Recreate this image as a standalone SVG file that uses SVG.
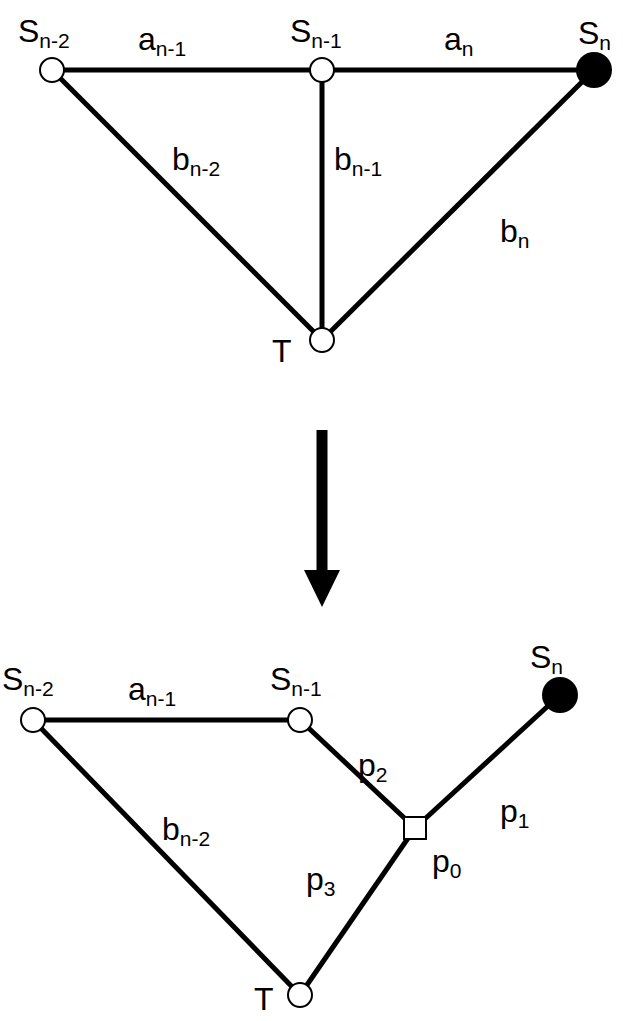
<svg xmlns="http://www.w3.org/2000/svg" width="623" height="1021" viewBox="0 0 623 1021">
<style>
.e{stroke:#000;stroke-width:5;fill:none}
.n{fill:#fff;stroke:#000;stroke-width:2}
.b{fill:#000}
text{font-family:"Liberation Sans",Arial,sans-serif;font-size:32px;fill:#000}
.s{font-size:21px}
</style>
<g id="connectors">
<line class="e" x1="52" y1="70" x2="594" y2="70"/>
<line class="e" x1="322" y1="70" x2="322" y2="340"/>
<line class="e" x1="52" y1="70" x2="322" y2="340"/>
<line class="e" x1="594" y1="70" x2="322" y2="340"/>
<line class="e" x1="33" y1="720" x2="300" y2="720"/>
<line class="e" x1="33" y1="720" x2="300" y2="995"/>
<line class="e" x1="300" y1="720" x2="415" y2="828"/>
<line class="e" x1="560" y1="695" x2="415" y2="828"/>
<line class="e" x1="300" y1="995" x2="415" y2="828"/>
<line x1="322" y1="430" x2="322" y2="572" stroke="#000" stroke-width="11"/>
<polygon points="304,570 340,570 322,607" fill="#000"/>
</g>
<g id="t-sn2"><circle class="n" cx="52" cy="70" r="12"/></g>
<g id="t-sn1"><circle class="n" cx="322" cy="70" r="12"/></g>
<g id="t-sn"><circle class="b" cx="594" cy="70" r="18"/></g>
<g id="t-T"><circle class="n" cx="322" cy="340" r="12"/></g>
<g id="b-sn2"><circle class="n" cx="33" cy="720" r="12"/></g>
<g id="b-sn1"><circle class="n" cx="300" cy="720" r="12"/></g>
<g id="b-sn"><circle class="b" cx="560" cy="695" r="18"/></g>
<g id="b-p0"><rect class="n" x="404" y="817" width="22" height="22"/></g>
<g id="b-T"><circle class="n" cx="300" cy="995" r="12"/></g>
<g id="labels">
<text x="18" y="42">S<tspan class="s" dy="6">n-2</tspan></text>
<text x="138" y="50">a<tspan class="s" dy="6">n-1</tspan></text>
<text x="290" y="42">S<tspan class="s" dy="6">n-1</tspan></text>
<text x="444" y="50">a<tspan class="s" dy="6">n</tspan></text>
<text x="578" y="44">S<tspan class="s" dy="6">n</tspan></text>
<text x="172" y="170">b<tspan class="s" dy="6">n-2</tspan></text>
<text x="334" y="170">b<tspan class="s" dy="6">n-1</tspan></text>
<text x="500" y="242">b<tspan class="s" dy="6">n</tspan></text>
<text x="272" y="362">T</text>
<text x="2" y="690">S<tspan class="s" dy="6">n-2</tspan></text>
<text x="128" y="700">a<tspan class="s" dy="6">n-1</tspan></text>
<text x="270" y="690">S<tspan class="s" dy="6">n-1</tspan></text>
<text x="530" y="668">S<tspan class="s" dy="6">n</tspan></text>
<text x="358" y="776">p<tspan class="s" dy="6">2</tspan></text>
<text x="500" y="822">p<tspan class="s" dy="6">1</tspan></text>
<text x="162" y="840">b<tspan class="s" dy="6">n-2</tspan></text>
<text x="432" y="872">p<tspan class="s" dy="6">0</tspan></text>
<text x="306" y="890">p<tspan class="s" dy="6">3</tspan></text>
<text x="254" y="1010">T</text>
</g>
</svg>
